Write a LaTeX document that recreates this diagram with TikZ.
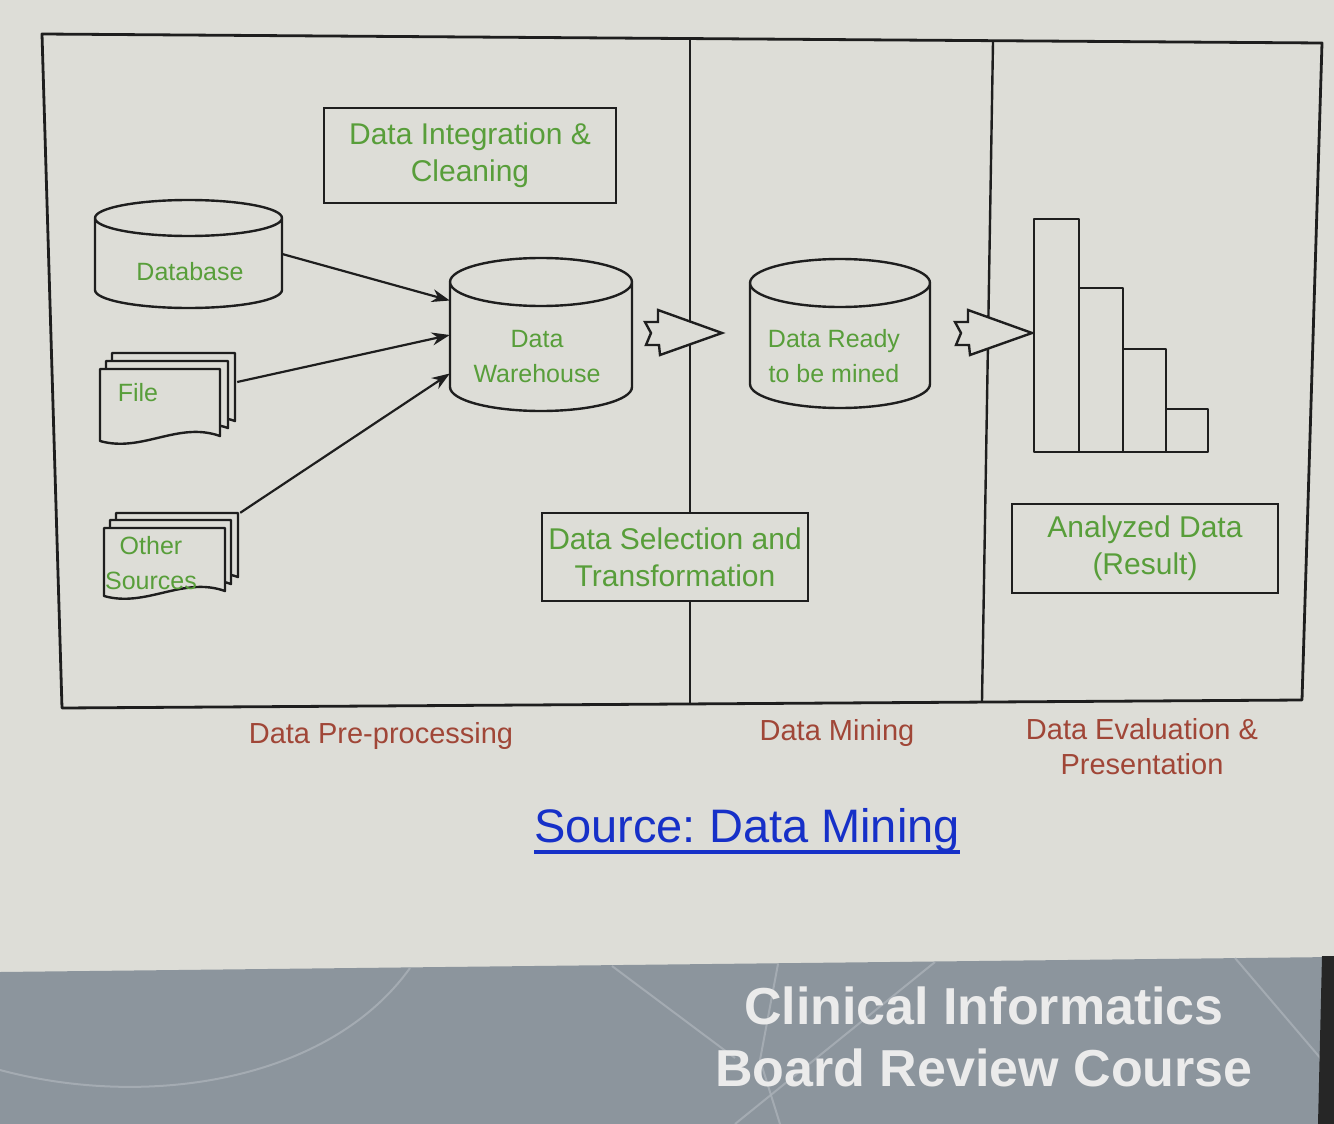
\documentclass[tikz,border=0pt]{standalone}
\usepackage{fontspec}
\setmainfont{Liberation Sans}
\usetikzlibrary{arrows.meta,calc}
\definecolor{bg}{RGB}{221,221,215}
\definecolor{band}{RGB}{140,149,157}
\definecolor{bandline}{RGB}{170,177,184}
\definecolor{txtgreen}{RGB}{88,158,58}
\definecolor{lblbrown}{RGB}{160,70,55}
\definecolor{srcblue}{RGB}{22,48,200}
\definecolor{inkline}{RGB}{30,30,30}
\frenchspacing
\newcommand\mycyl[5]{%
  \pgfmathsetmacro\crx{(#2-#1)/2}%
  \pgfmathsetmacro\ccx{(#2+#1)/2}%
  \draw[ln,fill=bg] (#1,#3) -- (#1,#4) arc[start angle=180,end angle=0,x radius=\crx,y radius=#5] -- (#2,#3) arc[start angle=0,end angle=180,x radius=\crx,y radius=#5] -- cycle;
  \draw[ln] (#1,#3) arc[start angle=180,end angle=360,x radius=\crx,y radius=#5];}
\newcommand\mydoc[4]{%
  \pgfmathsetmacro\wa{#1+0.35*(#3-#1)}%
  \pgfmathsetmacro\wb{#1+0.65*(#3-#1)}%
  \draw[ln,fill=bg] (#1,#2) -- (#3,#2) -- (#3,#4-5) .. controls (\wb,#4-20) and (\wa,#4+12) .. (#1,#4) -- cycle;}
\newcommand\myblock[2]{%
  \draw[ln,fill=bg,line join=miter] (#1-64,#2-23) -- (#1,#2) -- (#1-62,#2+22) -- (#1-63,#2+12) -- (#1-76,#2+12) -- (#1-71,#2) -- (#1-77,#2-11) -- (#1-64,#2-11) -- cycle;}
\tikzset{
  ln/.style={line width=2.4pt,draw=inkline,line join=round},
  gbox/.style={draw=inkline,line width=2.4pt,fill=bg,text=txtgreen,align=center,font=\fontsize{30}{37}\selectfont,inner sep=0pt},
  gtxt/.style={text=txtgreen,align=center,font=\fontsize{25}{35}\selectfont,inner sep=0pt},
  holder/.style={draw=none,inner sep=0pt},
  lbl/.style={text=lblbrown,align=center,font=\fontsize{29}{35}\selectfont,inner sep=0pt},
  conn/.style={line width=2.2pt,draw=inkline,-{Stealth[length=18pt,width=13pt]}},
}
\begin{document}
\begin{tikzpicture}[x=1pt,y=-1pt]
\useasboundingbox (0,0) rectangle (1334,1124);
\fill[bg] (0,0) rectangle (1334,1124);
% bottom band
\fill[band] (0,972) -- (1334,957) -- (1334,1124) -- (0,1124) -- cycle;
\begin{scope}[bandline,line width=2pt,opacity=0.8]
\draw (410,968) .. controls (330,1080) and (150,1110) .. (0,1070);
\draw (612,966) -- (735,1058);
\draw (778,964) -- (760,1060);
\draw (935,962) -- (735,1124);
\draw (1235,958) -- (1322,1060);
\draw (760,1060) -- (780,1124);
\end{scope}
\fill[black!85] (1322,956) -- (1334,956) -- (1334,1124) -- (1318,1124) -- cycle;
% frame
\draw[ln,line width=2.8pt] (42,34) -- (1322,43) -- (1302,700) -- (62,708) -- cycle;
\draw[ln] (690,40) -- (690,703);
\draw[ln] (993,42) -- (982,701);
% boxes
\node[gbox,minimum width=292pt,minimum height=95pt] (integ) at (470,155.5) {Data Integration \&\\Cleaning};
\node[gbox,minimum width=266pt,minimum height=88pt] (sel) at (675,557) {Data Selection and\\Transformation};
\node[gbox,minimum width=266pt,minimum height=89pt] (res) at (1145,548.5) {Analyzed Data\\(Result)};
% cylinders
\mycyl{95}{282}{218}{290}{18}
\node[holder,minimum width=187pt,minimum height=108pt] (db) at (188.5,254) {};
\node[gtxt] (dbt) at (190,272) {Database};
\mycyl{450}{632}{282}{387}{24}
\node[holder,minimum width=182pt,minimum height=151pt] (dw) at (541,332.5) {};
\node[gtxt] (dwt) at (537,357) {Data\\Warehouse};
\mycyl{750}{930}{283}{384}{24}
\node[holder,minimum width=180pt,minimum height=149pt] (rdy) at (840,332.5) {};
\node[gtxt] (rdyt) at (834,356) {Data Ready\\to be mined};
% document stacks
\mydoc{112}{353}{235}{426}
\mydoc{106}{361}{228}{433}
\mydoc{100}{369}{220}{441}
\node[holder,minimum width=137pt,minimum height=87pt] (file) at (168.5,396.5) {};
\node[gtxt] (filet) at (138,393) {File};
\mydoc{116}{513}{238}{582}
\mydoc{110}{520}{231}{589}
\mydoc{104}{528}{225}{596}
\node[holder,minimum width=136pt,minimum height=85pt] (oth) at (172,555.5) {};
\node[gtxt] (otht) at (151,563) {Other\\Sources};
% connectors
\draw[conn] (db.east) -- ([yshift=32pt]dw.west);
\draw[conn] ([yshift=14.5pt]file.east) -- ([yshift=-2.5pt]dw.west);
\draw[conn] (oth.north east) -- ([yshift=-41pt]dw.west);
% block arrows
\myblock{722}{333}
\myblock{1032}{333}
% bar chart
\draw[ln,fill=bg] (1034,219) rectangle (1079,452);
\draw[ln,fill=bg] (1079,288) rectangle (1123,452);
\draw[ln,fill=bg] (1123,349) rectangle (1166,452);
\draw[ln,fill=bg] (1166,409) rectangle (1208,452);
% labels
\node[lbl] (l1) at (381,736) {Data Pre-processing};
\node[lbl] (l2) at (837,733) {Data Mining};
\node[lbl] (l3) at (1142,747) {Data Evaluation \&\\Presentation};
\node[text=srcblue,font=\fontsize{47}{50}\selectfont,inner sep=0pt] (src) at (747,830) {Source: Data Mining};
\draw[srcblue,line width=4pt] (534,852) -- (960,852);
\node[text=black!8,font=\bfseries\fontsize{52}{62}\selectfont,align=center,inner sep=0pt] (brand) at (984,1037) {Clinical Informatics\\Board Review Course};
\end{tikzpicture}
\end{document}
